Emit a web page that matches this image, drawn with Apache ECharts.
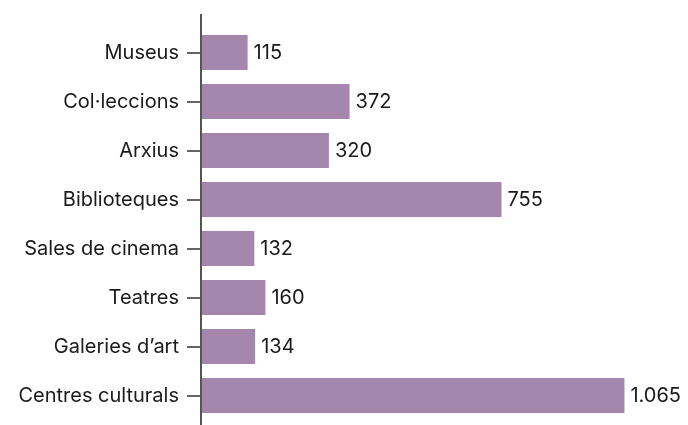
<!DOCTYPE html>
<html>
<head>
<meta charset="utf-8">
<script src="https://cdn.jsdelivr.net/npm/echarts@6/dist/echarts.min.js"></script>
<style>
  html, body { margin: 0; padding: 0; background: #fff; }
  #chart { width: 688px; height: 425px; }
</style>
</head>
<body>
<div id="chart"></div>
<script>
const categories = [
  "Museus",
  "Col·leccions",
  "Arxius",
  "Biblioteques",
  "Sales de cinema",
  "Teatres",
  "Galeries d’art",
  "Centres culturals"
];
const values = [115, 372, 320, 755, 132, 160, 134, 1065];

const FONT = "Inter, 'Noto Sans', sans-serif";

// catalan style thousands separator
function fmt(v) {
  return String(v).replace(/\B(?=(\d{3})+(?!\d))/g, ".");
}

const chart = echarts.init(document.getElementById('chart'));

chart.setOption({
  animation: false,
  grid: { left: 202, top: 28, bottom: 5, right: 10 },
  xAxis: {
    type: 'value',
    min: 0,
    max: 1200,
    show: false
  },
  yAxis: {
    type: 'category',
    data: categories,
    inverse: true,
    axisLine: { show: false },
    axisTick: {
      show: true,
      alignWithLabel: true,
      length: 15,
      lineStyle: { color: '#333', width: 1.5 }
    },
    axisLabel: {
      margin: 23,
      color: '#1a1a1a',
      fontSize: 20,
      fontFamily: FONT
    }
  },
  series: [{
    type: 'bar',
    data: values,
    barWidth: 35,
    itemStyle: { color: '#a587ad' },
    label: {
      show: true,
      position: 'right',
      distance: 6,
      color: '#1a1a1a',
      fontSize: 20,
      fontFamily: FONT,
      formatter: p => fmt(p.value)
    }
  }],
  graphic: [{
    type: 'line',
    shape: { x1: 201, y1: 14, x2: 201, y2: 425 },
    style: { stroke: '#555', lineWidth: 2 },
    z: 10
  }]
});
</script>
</body>
</html>
